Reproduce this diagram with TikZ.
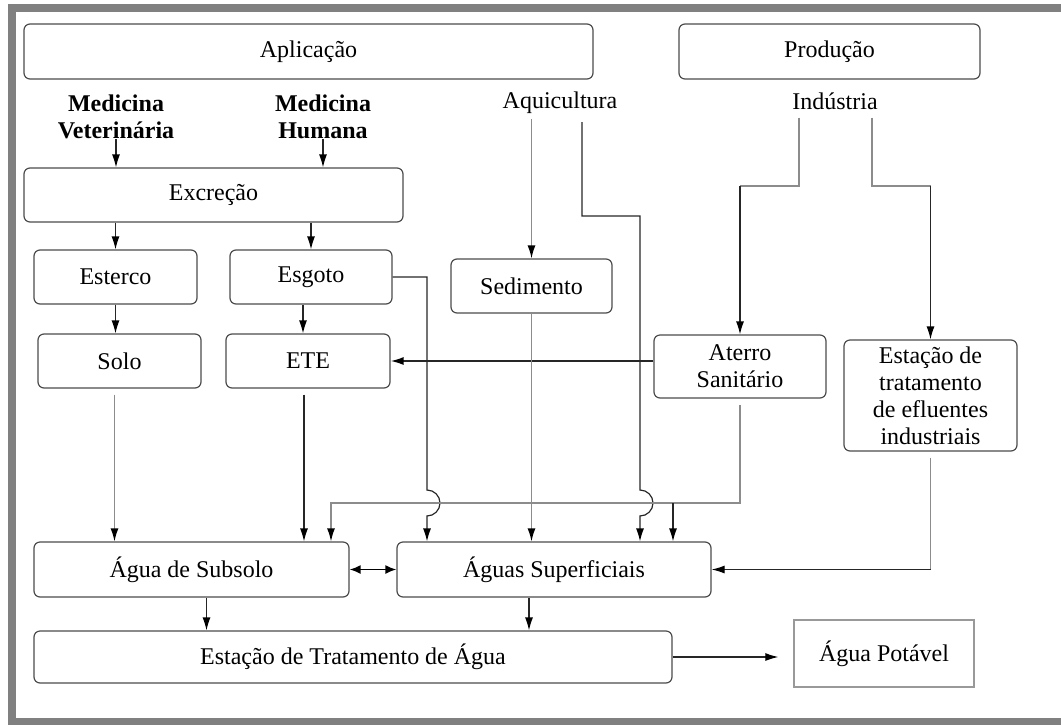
\documentclass[tikz,border=0pt]{standalone}
\usepackage{fontspec}
\setmainfont{Liberation Serif}
\usetikzlibrary{arrows.meta}

\begin{document}
\begin{tikzpicture}[x=1pt,y=-1pt,
    font=\fontsize{24}{27}\selectfont,
    caixa/.style={draw=black!70, line width=1.2pt, rounded corners=6pt, align=center, inner sep=0pt},
    rotulo/.style={align=center, inner sep=0pt},
    linha/.style={draw=black!85, line width=1.2pt},
    linhacinza/.style={draw=black!45, line width=1.5pt},
    seta/.style={linha, -{Latex[length=13pt,width=8pt,color=black]}},
    setacinza/.style={linhacinza, -{Latex[length=13pt,width=8pt,color=black]}},
    dupla/.style={draw=black, line width=1.8pt, {Latex[length=11pt,width=9pt]}-{Latex[length=11pt,width=9pt]}}]
    \useasboundingbox (0,0) rectangle (1061,724);
    \draw[black!50, line width=8pt] (11.5,8) rectangle (1075,722);

    \node[caixa, minimum width=569pt, minimum height=55pt] (aplic) at (308.5,51.5) {Aplicação};
    \node[caixa, minimum width=301pt, minimum height=55pt] (prod) at (829.5,51.5) {Produção};
    \node[rotulo, font=\fontsize{24}{27}\selectfont\bfseries] (medvet) at (116,117) {Medicina\\Veterinária};
    \node[rotulo, font=\fontsize{24}{27}\selectfont\bfseries] (medhum) at (323,117) {Medicina\\Humana};
    \node[rotulo] (aqui) at (560,103) {Aquicultura};
    \node[rotulo] (ind) at (835,101) {Indústria};
    \node[caixa, minimum width=379pt, minimum height=54pt] (excr) at (213.5,195) {Excreção};
    \node[caixa, minimum width=163pt, minimum height=54pt] (esterco) at (115.5,277) {Esterco};
    \node[caixa, minimum width=162pt, minimum height=54pt] (esgoto) at (311,277) {Esgoto};
    \node[caixa, minimum width=161pt, minimum height=54pt] (sedim) at (531.5,286) {Sedimento};
    \node[caixa, minimum width=163pt, minimum height=54pt] (solo) at (119.5,361) {Solo};
    \node[caixa, minimum width=164pt, minimum height=54pt] (ete) at (308,361) {ETE};
    \node[caixa, minimum width=172pt, minimum height=63pt] (aterro) at (740,366.5) {Aterro\\Sanitário};
    \node[caixa, minimum width=173pt, minimum height=111pt] (estef) at (930.5,395.5) {Estação de\\tratamento\\de efluentes\\industriais};
    \node[caixa, minimum width=315pt, minimum height=55pt] (subsolo) at (191.5,569.5) {Água de Subsolo};
    \node[caixa, minimum width=314pt, minimum height=55pt] (aguasup) at (554,569.5) {Águas Superficiais};
    \node[caixa, minimum width=638pt, minimum height=52pt] (eta) at (353,657) {Estação de Tratamento de Água};
    \node[draw=black!40, line width=1.3pt, minimum width=180pt, minimum height=67pt] (potavel) at (884,653.5) {Água Potável};

    \coordinate (dobra) at (0,186);
    \coordinate (faixa) at (331,503);
    \coordinate (ramo) at (673,503);
    \coordinate (pulo1) at (427,490);
    \coordinate (pulo2) at (640,490);

    \draw[seta] (medvet.south) -- (medvet.south |- excr.north);
    \draw[seta] (medhum.south) -- (medhum.south |- excr.north);
    \draw[seta] (esterco.north |- excr.south) -- (esterco.north);
    \draw[seta] (esgoto.north |- excr.south) -- (esgoto.north);
    \draw[seta] (esterco.south) -- (esterco.south |- solo.north);
    \draw[seta] ([xshift=-5pt]ete.north |- esgoto.south) -- ([xshift=-5pt]ete.north);
    \draw[setacinza, shorten <=5pt] (sedim.north |- aqui.south) -- (sedim.north);
    \draw[seta, shorten <=8pt] ([xshift=22pt]aqui.south) -- ++(0,102) -| (pulo2)
        arc[start angle=-90, end angle=90, radius=13] -- (pulo2 |- aguasup.north);
    \draw[linhacinza, shorten <=8pt] ([xshift=-36pt]ind.south) |- (aterro.north |- dobra);
    \draw[seta] (aterro.north |- dobra) -- (aterro.north);
    \draw[linhacinza, shorten <=8pt] ([xshift=37pt]ind.south) |- (estef.north |- dobra);
    \draw[seta] (estef.north |- dobra) -- (estef.north);
    \draw[seta, line width=1.6pt] (aterro.west |- ete.east) -- (ete.east);
    \draw[seta] (esgoto.east) -- (esgoto.east -| pulo1) -- (pulo1)
        arc[start angle=-90, end angle=90, radius=13] -- (pulo1 |- aguasup.north);
    \draw[setacinza, shorten <=6pt] ([xshift=-5pt]solo.south) -- ([xshift=-5pt]solo.south |- subsolo.north);
    \draw[seta, shorten <=6pt] ([xshift=-4pt]ete.south) -- ([xshift=-4pt]ete.south |- subsolo.north);
    \draw[setacinza] (sedim.south) -- (sedim.south |- aguasup.north);
    \draw[setacinza, shorten <=6pt] (aterro.south) -- (aterro.south |- faixa) -- (faixa) -- (faixa |- subsolo.north);
    \draw[seta] (ramo) -- (ramo |- aguasup.north);
    \draw[linhacinza, shorten <=6pt] (estef.south) -- (estef.south |- aguasup.east);
    \draw[seta] (estef.south |- aguasup.east) -- (aguasup.east);
    \draw[dupla] (subsolo.east) -- (aguasup.west);
    \draw[seta] ([xshift=15pt]subsolo.south) -- ([xshift=15pt]subsolo.south |- eta.north);
    \draw[seta] ([xshift=-25pt]aguasup.south) -- ([xshift=-25pt]aguasup.south |- eta.north);
    \draw[seta, shorten >=15pt] (eta.east) -- (eta.east -| potavel.west);
\end{tikzpicture}
\end{document}
